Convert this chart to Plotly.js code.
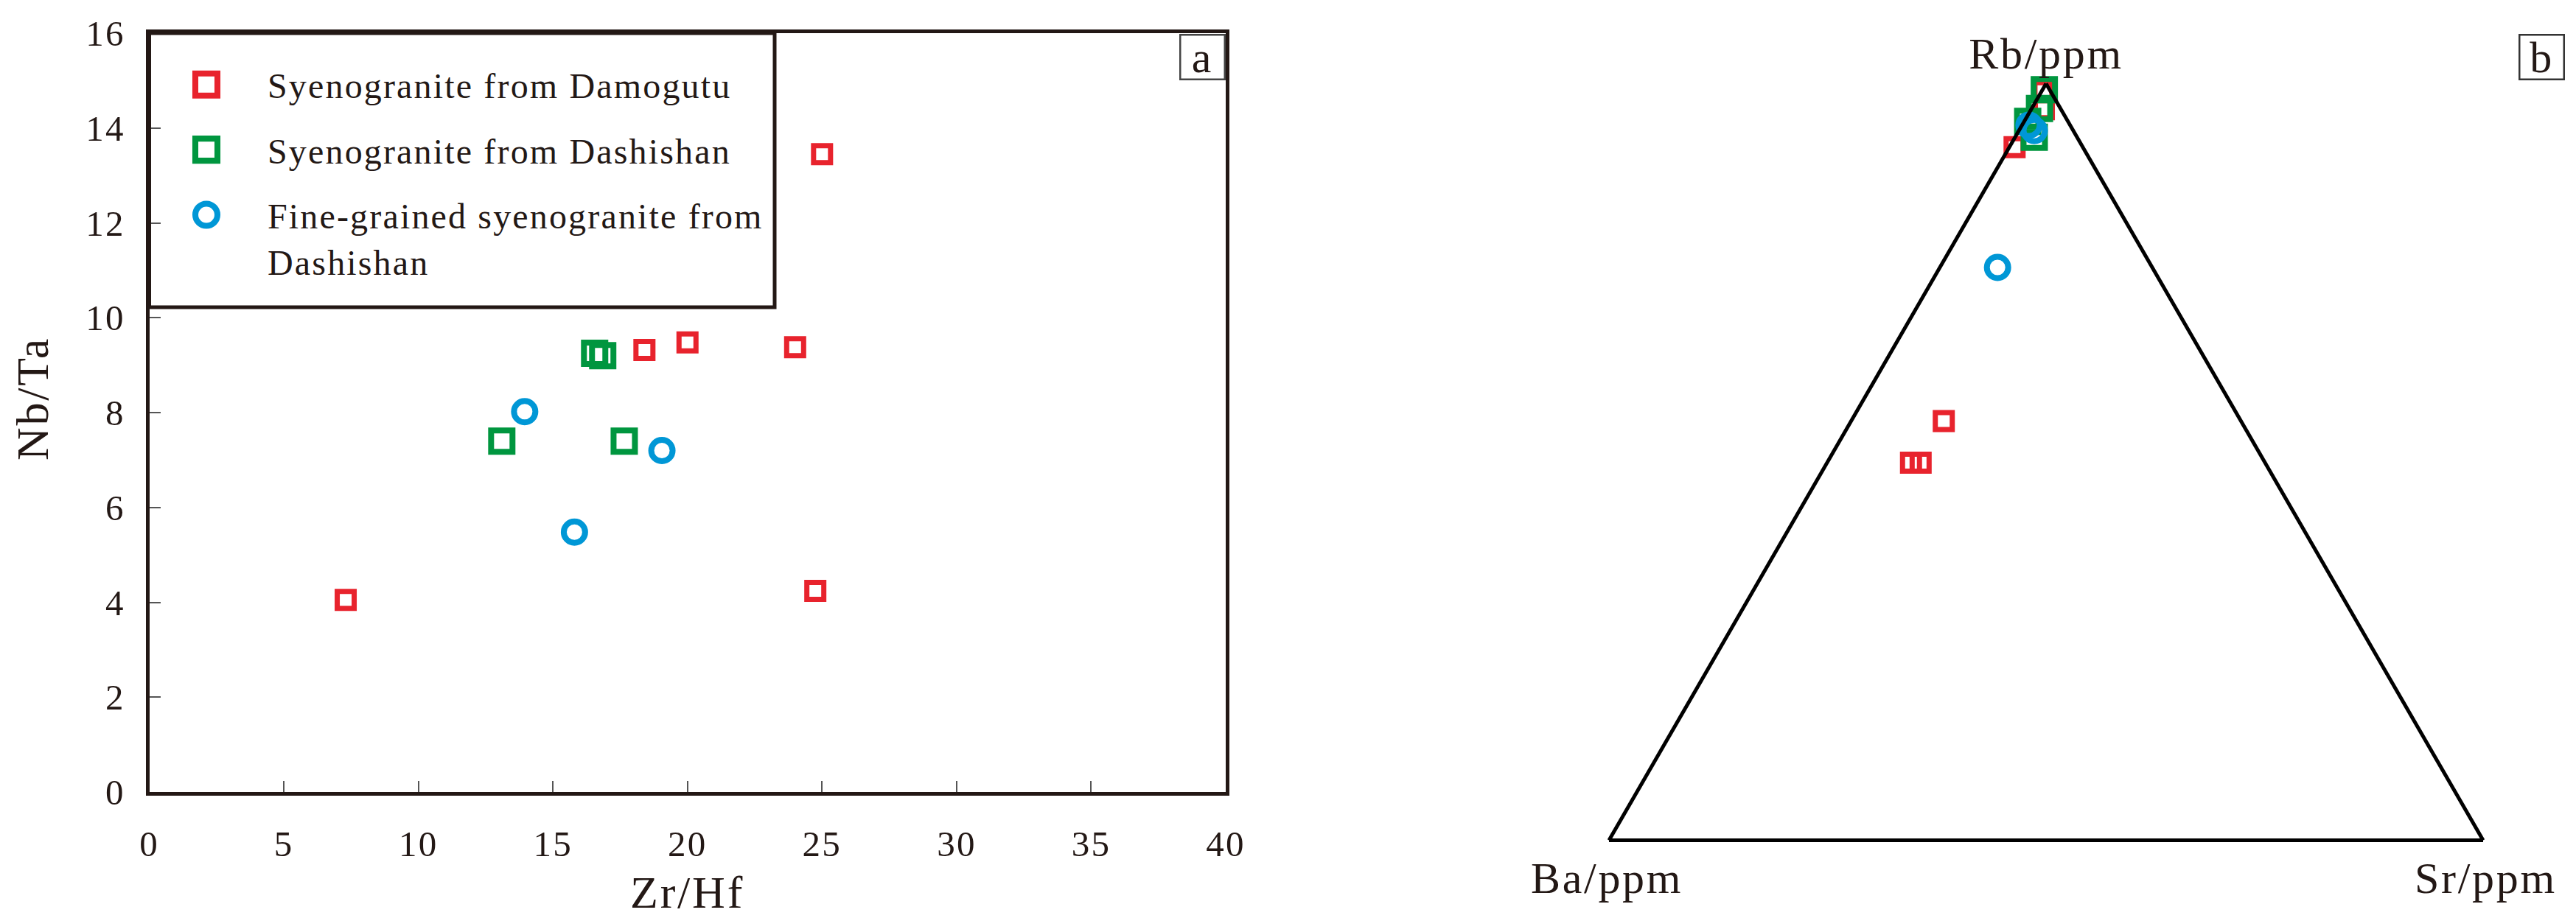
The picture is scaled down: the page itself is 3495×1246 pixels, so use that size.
<!DOCTYPE html>
<html>
<head>
<meta charset="utf-8">
<script src="https://cdn.plot.ly/plotly-3.0.1.min.js"></script>
<style>
html,body{margin:0;padding:0;background:#fff;}
#chart{width:3495px;height:1246px;}
svg text{letter-spacing:0.045em;}
</style>
</head>
<body>
<div id="chart"></div>
<script>
// ---------- Panel a : Zr/Hf vs Nb/Ta ----------
const seriesNames = [
  'Syenogranite from Damogutu',
  'Syenogranite from Dashishan',
  'Fine-grained syenogranite from<br>Dashishan'
];
const damogutuZrHf = [7.3, 25.0, 18.4, 20.0, 24.0, 24.75];
const damogutuNbTa = [4.05, 13.45, 9.32, 9.48, 9.38, 4.24];
const dashishanZrHf = [16.55, 16.85, 13.1, 17.65];
const dashishanNbTa = [9.25, 9.2, 7.4, 7.4];
const fineZrHf = [13.95, 19.05, 15.8];
const fineNbTa = [8.02, 7.2, 5.48];

// ---------- Panel b : Rb - Ba - Sr ternary ----------
const damogutuRb = [0.990, 0.966, 0.916, 0.554, 0.499, 0.499];
const damogutuBa = [0.008, 0.0195, 0.078, 0.340, 0.405, 0.394];
const damogutuSr = [0.002, 0.0145, 0.006, 0.106, 0.096, 0.107];
const dashishanRb = [0.992, 0.967, 0.950, 0.929];
const dashishanBa = [0.006, 0.024, 0.046, 0.049];
const dashishanSr = [0.002, 0.009, 0.004, 0.022];
const fineRb = [0.757, 0.945, 0.938];
const fineBa = [0.177, 0.047, 0.0445];
const fineSr = [0.066, 0.008, 0.0175];

const xTickVals = [0, 5, 10, 15, 20, 25, 30, 35, 40];
const yTickVals = [0, 2, 4, 6, 8, 10, 12, 14, 16];
const axisTitles = ['Zr/Hf', 'Nb/Ta'];
const ternaryLabels = ['Rb/ppm', 'Ba/ppm', 'Sr/ppm'];

const RED = '#e8232d', GREEN = '#00963f', BLUE = '#0097d6';
const INK = '#231815';
const FONT = 'Liberation Serif, Times New Roman, serif';
const W = 3495, H = 1246;
const px = v => v / W, py = v => 1 - v / H;

const redMarker = {symbol: 'square-open', size: 23, color: RED, line: {width: 7, color: RED}};
const greenMarker = {symbol: 'square-open', size: 29, color: GREEN, line: {width: 8, color: GREEN}};
const blueMarker = {symbol: 'circle-open', size: 29, color: BLUE, line: {width: 8, color: BLUE}};

const traces = [
  {type: 'scatter', mode: 'markers', x: damogutuZrHf, y: damogutuNbTa, name: seriesNames[0],
   legendgroup: 'g1', marker: redMarker, cliponaxis: false},
  {type: 'scatter', mode: 'markers', x: dashishanZrHf, y: dashishanNbTa, name: seriesNames[1],
   legendgroup: 'g2', marker: greenMarker, cliponaxis: false},
  {type: 'scatter', mode: 'markers', x: fineZrHf, y: fineNbTa, name: seriesNames[2],
   legendgroup: 'g3', marker: blueMarker, cliponaxis: false},
  {type: 'scatterternary', mode: 'markers', a: damogutuRb, b: damogutuBa, c: damogutuSr,
   name: seriesNames[0], showlegend: false, marker: redMarker, cliponaxis: false},
  {type: 'scatterternary', mode: 'markers', a: dashishanRb, b: dashishanBa, c: dashishanSr,
   name: seriesNames[1], showlegend: false, marker: greenMarker, cliponaxis: false},
  {type: 'scatterternary', mode: 'markers', a: fineRb, b: fineBa, c: fineSr,
   name: seriesNames[2], showlegend: false, marker: blueMarker, cliponaxis: false}
];

const ternAxis = (title) => ({
  title: {text: title, font: {family: FONT, size: 60, color: INK}},
  showticklabels: false, ticks: '', showgrid: false,
  linewidth: 5, linecolor: '#000', min: 0
});

const layout = {
  width: W, height: H,
  margin: {l: 0, r: 0, t: 0, b: 0},
  paper_bgcolor: '#fff', plot_bgcolor: '#fff',
  font: {family: FONT, color: INK},
  showlegend: true,
  xaxis: {
    domain: [px(202.5), px(1663)], range: [0, 40],
    tickvals: xTickVals, ticks: 'inside', ticklen: 15, tickwidth: 2, tickcolor: '#555',
    showline: true, linewidth: 5, linecolor: INK, mirror: true,
    showgrid: false, zeroline: false, automargin: false,
    tickfont: {family: FONT, size: 49, color: INK}, ticklabelstandoff: 23,
    title: {text: ''}
  },
  yaxis: {
    domain: [py(1075), py(45)], range: [0, 16],
    tickvals: yTickVals, ticks: 'inside', ticklen: 15, tickwidth: 2, tickcolor: '#555',
    showline: true, linewidth: 5, linecolor: INK, mirror: true,
    showgrid: false, zeroline: false, automargin: false,
    tickfont: {family: FONT, size: 49, color: INK}, ticklabelstandoff: 18,
    title: {text: ''}
  },
  ternary: {
    domain: {x: [px(2183), px(3369)], y: [py(1141), py(113)]},
    sum: 1, bgcolor: 'rgba(0,0,0,0)',
    aaxis: ternAxis(ternaryLabels[0]),
    baxis: ternAxis(''),
    caxis: ternAxis('')
  },
  legend: {
    x: px(197), xanchor: 'left', y: py(77), yanchor: 'top',
    bgcolor: 'rgba(0,0,0,0)', borderwidth: 0,
    font: {family: FONT, size: 48, color: INK},
    itemwidth: 156, tracegroupgap: 23, valign: 'top',
    itemclick: false, itemdoubleclick: false
  },
  shapes: [
    {type: 'rect', xref: 'paper', yref: 'paper', x0: px(202.5), x1: px(1051), y0: py(417), y1: py(45),
     line: {color: INK, width: 5}, fillcolor: 'rgba(0,0,0,0)', layer: 'above'}
  ],
  annotations: [
    {xref: 'paper', yref: 'paper', x: px(932), y: py(1211), xanchor: 'center', yanchor: 'middle',
     text: axisTitles[0], showarrow: false, font: {family: FONT, size: 62, color: INK}},
    {xref: 'paper', yref: 'paper', x: px(44), y: py(541), xanchor: 'center', yanchor: 'middle',
     text: axisTitles[1], textangle: -90, showarrow: false, font: {family: FONT, size: 62, color: INK}},
    {xref: 'paper', yref: 'paper', x: px(2180), y: py(1192), xanchor: 'center', yanchor: 'middle',
     text: ternaryLabels[1], showarrow: false, font: {family: FONT, size: 60, color: INK}},
    {xref: 'paper', yref: 'paper', x: px(3372), y: py(1192), xanchor: 'center', yanchor: 'middle',
     text: ternaryLabels[2], showarrow: false, font: {family: FONT, size: 60, color: INK}},
    {xref: 'paper', yref: 'paper', x: px(1631.5), y: py(77), xanchor: 'center', yanchor: 'middle',
     text: 'a', showarrow: false, font: {family: FONT, size: 60, color: INK},
     width: 58, height: 58, bordercolor: '#444', borderwidth: 2.5, borderpad: 0, bgcolor: '#fff'},
    {xref: 'paper', yref: 'paper', x: px(3448.5), y: py(77.5), xanchor: 'center', yanchor: 'middle',
     text: 'b', showarrow: false, font: {family: FONT, size: 60, color: INK},
     width: 58, height: 58, bordercolor: '#333', borderwidth: 2.5, borderpad: 0, bgcolor: '#fff'}
  ]
};

Plotly.newPlot('chart', traces, layout, {staticPlot: true, displayModeBar: false}).then(gd => {
  // enlarge legend symbols to match the reference key size
  gd.querySelectorAll('.legend .traces .legendpoints path.scatterpts').forEach(p => {
    const t = p.getAttribute('transform') || '';
    p.setAttribute('transform', t + ' scale(1.875)');
    p.style.strokeWidth = '4.3px';
  });
});
</script>
</body>
</html>
